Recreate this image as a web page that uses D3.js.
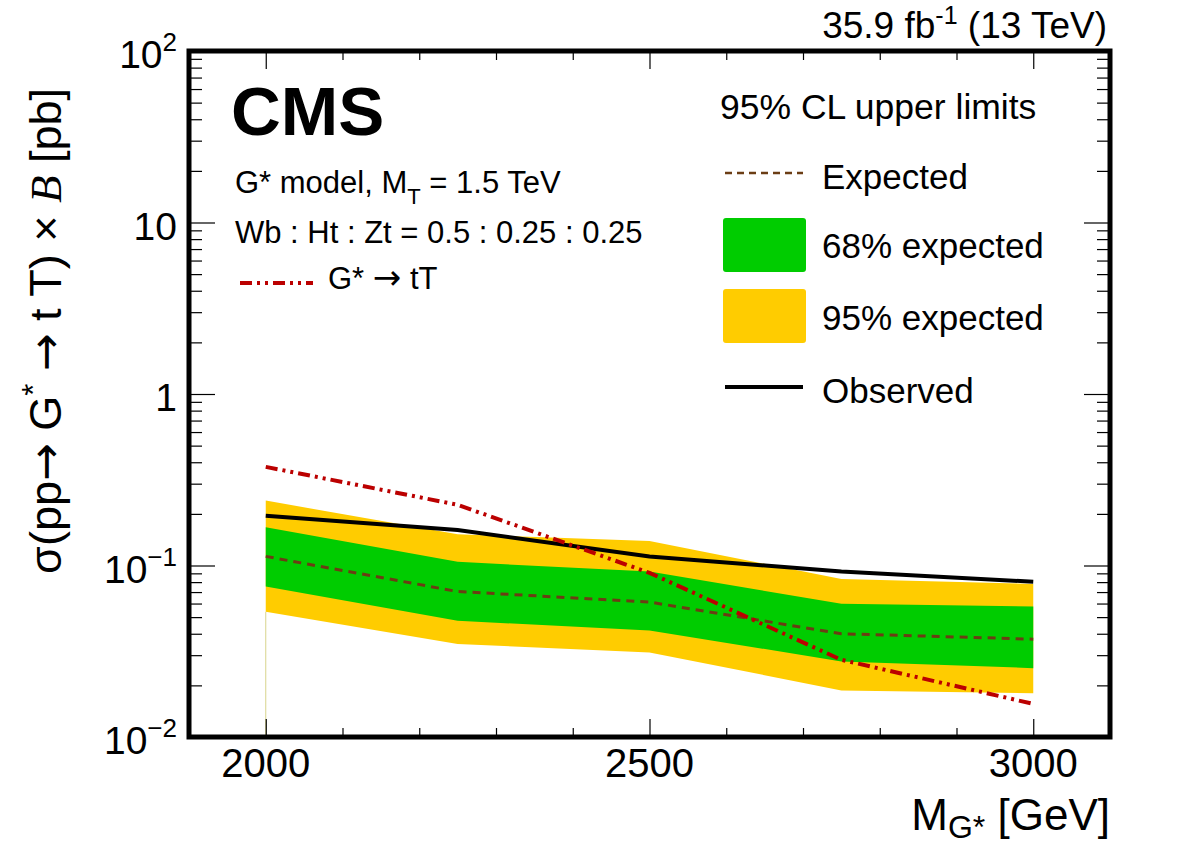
<!DOCTYPE html>
<html>
<head>
<meta charset="utf-8">
<script src="https://cdn.jsdelivr.net/npm/d3@7"></script>
<style>
  html, body { margin: 0; padding: 0; background: #fff; }
  svg { display: block; }
  text { font-family: "Liberation Sans", Arial, Helvetica, sans-serif; fill: #000; }
  .arrow { font-family: "DejaVu Sans", sans-serif; }
</style>
</head>
<body>
<div id="chart"></div>
<script>
// data
var masses = [2000, 2250, 2500, 2750, 3000];
var observed = [0.195, 0.161, 0.113, 0.0923, 0.0804];
var expected = [0.113, 0.0705, 0.0612, 0.040, 0.0372];
var exp68Up = [0.167, 0.105, 0.0923, 0.0598, 0.0577];
var exp68Down = [0.0754, 0.0476, 0.0418, 0.0276, 0.0252];
var exp95Up = [0.239, 0.152, 0.139, 0.0834, 0.078];
var exp95Down = [0.0537, 0.0349, 0.0311, 0.0187, 0.018];
var theory = [0.376, 0.226, 0.0906, 0.0282, 0.0156];

var xMajorTicks = [2000, 2500, 3000];
var yMajorTicks = [0.01, 0.1, 1, 10, 100];
var yTickBase = ['10', '10', '1', '10', '10'];
var yTickExp = ['\u22122', '\u22121', '', '', '2'];

var W = 1182, H = 848;
var pLeft = 189, pRight = 1110, pTop = 51, pBottom = 737;

var svg = d3.select('#chart').append('svg')
    .attr('width', W)
    .attr('height', H);

var x = d3.scaleLinear().domain([1900, 3100]).range([pLeft, pRight]);
var y = d3.scaleLog().domain([0.01, 100]).range([pBottom, pTop]);

var pts = masses.map(function (m, i) { return i; });

// bands
var band = function (up, down) {
    return d3.area()
        .x(function (i) { return x(masses[i]); })
        .y0(function (i) { return y(down[i]); })
        .y1(function (i) { return y(up[i]); });
};

// thin edge artifact left by the band at the first point
svg.append('line')
    .attr('x1', x(masses[0])).attr('x2', x(masses[0]))
    .attr('y1', y(exp95Down[0])).attr('y2', pBottom)
    .attr('stroke', '#d8d48c').attr('stroke-width', 1);

svg.append('path').datum(pts)
    .attr('d', band(exp95Up, exp95Down))
    .attr('fill', '#ffcc00');
svg.append('path').datum(pts)
    .attr('d', band(exp68Up, exp68Down))
    .attr('fill', '#00cc00');

var line = function (vals) {
    return d3.line()
        .x(function (i) { return x(masses[i]); })
        .y(function (i) { return y(vals[i]); });
};

svg.append('path').datum(pts)
    .attr('d', line(expected))
    .attr('fill', 'none')
    .attr('stroke', '#6b3d14')
    .attr('stroke-width', 3)
    .attr('stroke-dasharray', '8,6');

svg.append('path').datum(pts)
    .attr('d', line(observed))
    .attr('fill', 'none')
    .attr('stroke', '#000')
    .attr('stroke-width', 4);

svg.append('path').datum(pts)
    .attr('d', line(theory))
    .attr('fill', 'none')
    .attr('stroke', '#bb0000')
    .attr('stroke-width', 4)
    .attr('stroke-dasharray', '12,5,3,5,3,5');

// axes: ticks drawn inside on all four sides
var xMinor = d3.range(1900, 3101, 100).filter(function (v) { return xMajorTicks.indexOf(v) < 0; });
var yMinor = [];
[0.01, 0.1, 1, 10].forEach(function (d) {
    for (var k = 2; k <= 9; k++) yMinor.push(d * k);
});

function styleAxis(g) {
    g.select('.domain').remove();
    g.selectAll('line').attr('stroke', '#000').attr('stroke-width', 1.2);
    g.selectAll('text').remove();
}

svg.append('g').attr('transform', 'translate(0,' + pBottom + ')')
    .call(d3.axisBottom(x).tickValues(xMajorTicks).tickSize(-18)).call(styleAxis);
svg.append('g').attr('transform', 'translate(0,' + pBottom + ')')
    .call(d3.axisBottom(x).tickValues(xMinor).tickSize(-9)).call(styleAxis);
svg.append('g').attr('transform', 'translate(0,' + pTop + ')')
    .call(d3.axisTop(x).tickValues(xMajorTicks).tickSize(-18)).call(styleAxis);
svg.append('g').attr('transform', 'translate(0,' + pTop + ')')
    .call(d3.axisTop(x).tickValues(xMinor).tickSize(-9)).call(styleAxis);

svg.append('g').attr('transform', 'translate(' + pLeft + ',0)')
    .call(d3.axisLeft(y).tickValues(yMajorTicks).tickSize(-26)).call(styleAxis);
svg.append('g').attr('transform', 'translate(' + pLeft + ',0)')
    .call(d3.axisLeft(y).tickValues(yMinor).tickSize(-13)).call(styleAxis);
svg.append('g').attr('transform', 'translate(' + pRight + ',0)')
    .call(d3.axisRight(y).tickValues(yMajorTicks).tickSize(-26)).call(styleAxis);
svg.append('g').attr('transform', 'translate(' + pRight + ',0)')
    .call(d3.axisRight(y).tickValues(yMinor).tickSize(-13)).call(styleAxis);

// frame
svg.append('rect')
    .attr('x', pLeft).attr('y', pTop)
    .attr('width', pRight - pLeft).attr('height', pBottom - pTop)
    .attr('fill', 'none').attr('stroke', '#000').attr('stroke-width', 5);

// tick labels
svg.selectAll('.xlab').data(xMajorTicks).enter().append('text')
    .attr('x', function (d) { return x(d); })
    .attr('y', 777)
    .attr('text-anchor', 'middle')
    .attr('font-size', 40)
    .text(function (d) { return d; });

yMajorTicks.forEach(function (v, i) {
    var t = svg.append('text')
        .attr('x', 177)
        .attr('y', y(v) + 17)
        .attr('text-anchor', 'end')
        .attr('font-size', 39);
    t.append('tspan').text(yTickBase[i]);
    if (yTickExp[i]) {
        t.append('tspan').attr('dy', -17).attr('font-size', 26).text(yTickExp[i]);
    }
});

// axis titles
var xt = svg.append('text')
    .attr('x', 1110).attr('y', 830)
    .attr('text-anchor', 'end')
    .attr('font-size', 44);
xt.append('tspan').text('M');
xt.append('tspan').attr('dy', 8).attr('font-size', 32).text('G*');
xt.append('tspan').attr('dy', -8).text(' [GeV]');

var yt = svg.append('text')
    .attr('transform', 'translate(61,88) rotate(-90)')
    .attr('text-anchor', 'end')
    .attr('font-size', 45);
yt.append('tspan').text('\u03c3(pp');
yt.append('tspan').attr('class', 'arrow').text('\u2192');
yt.append('tspan').text(' G');
yt.append('tspan').attr('dy', -17).attr('font-size', 31).text('*');
yt.append('tspan').attr('dy', 17).text(' ');
yt.append('tspan').attr('class', 'arrow').text('\u2192');
yt.append('tspan').text(' t T) \u00d7 ');
yt.append('tspan').attr('font-family', '"Liberation Serif", "DejaVu Serif", serif')
    .attr('font-style', 'italic').text('B');
yt.append('tspan').text(' [pb]');

// header texts
var lumi = svg.append('text')
    .attr('x', 1107).attr('y', 38)
    .attr('text-anchor', 'end')
    .attr('font-size', 37);
lumi.append('tspan').text('35.9 fb');
lumi.append('tspan').attr('dy', -14).attr('font-size', 25).text('-1');
lumi.append('tspan').attr('dy', 14).text(' (13 TeV)');

svg.append('text')
    .attr('x', 231).attr('y', 135)
    .attr('font-size', 69)
    .attr('font-weight', 'bold')
    .text('CMS');

var info1 = svg.append('text')
    .attr('x', 235).attr('y', 193)
    .attr('font-size', 31);
info1.append('tspan').text('G* model, M');
info1.append('tspan').attr('dy', 11).attr('font-size', 22).text('T');
info1.append('tspan').attr('dy', -11).text(' = 1.5 TeV');

svg.append('text')
    .attr('x', 235).attr('y', 243)
    .attr('font-size', 31)
    .text('Wb : Ht : Zt = 0.5 : 0.25 : 0.25');

svg.append('line')
    .attr('x1', 240).attr('x2', 313).attr('y1', 283).attr('y2', 283)
    .attr('stroke', '#bb0000').attr('stroke-width', 4)
    .attr('stroke-dasharray', '12,5,3,5,3,5');
var gl = svg.append('text')
    .attr('x', 328).attr('y', 289)
    .attr('font-size', 31);
gl.append('tspan').text('G* ');
gl.append('tspan').attr('class', 'arrow').attr('font-size', 34).text('\u2192');
gl.append('tspan').text(' tT');

// legend
svg.append('text')
    .attr('x', 720).attr('y', 119)
    .attr('font-size', 35.5)
    .text('95% CL upper limits');

svg.append('line')
    .attr('x1', 725).attr('x2', 803).attr('y1', 173).attr('y2', 173)
    .attr('stroke', '#6b3d14').attr('stroke-width', 2.5)
    .attr('stroke-dasharray', '7,5');
svg.append('text').attr('x', 822).attr('y', 189).attr('font-size', 35).text('Expected');

svg.append('rect')
    .attr('x', 723).attr('y', 218).attr('width', 83).attr('height', 54)
    .attr('rx', 3).attr('fill', '#00cc00');
svg.append('text').attr('x', 822).attr('y', 258).attr('font-size', 35).text('68% expected');

svg.append('rect')
    .attr('x', 723).attr('y', 289).attr('width', 83).attr('height', 54)
    .attr('rx', 3).attr('fill', '#ffcc00');
svg.append('text').attr('x', 822).attr('y', 330).attr('font-size', 35).text('95% expected');

svg.append('line')
    .attr('x1', 725).attr('x2', 803).attr('y1', 387).attr('y2', 387)
    .attr('stroke', '#000').attr('stroke-width', 4);
svg.append('text').attr('x', 822).attr('y', 403).attr('font-size', 35).text('Observed');
</script>
</body>
</html>
